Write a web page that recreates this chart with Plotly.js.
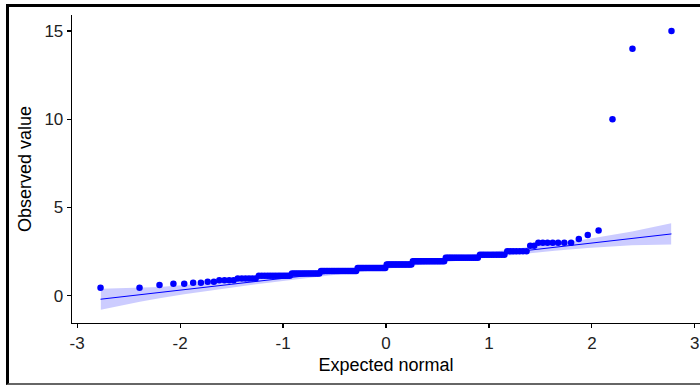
<!DOCTYPE html>
<html>
<head>
<meta charset="utf-8">
<script src="https://cdn.plot.ly/plotly-3.0.1.min.js"></script>
<style>
  html, body { margin:0; padding:0; background:#fff; overflow:hidden; width:700px; height:385px; }
  #chart { position:absolute; left:0; top:0; width:700px; height:385px; }
  #frame { position:absolute; left:6px; top:4px; width:720px; height:376px;
           border-top:3px solid #000; border-left:3px solid #000; border-bottom:2px solid #666;
           pointer-events:none; z-index:5; }
</style>
</head>
<body>
<div id="chart"></div>
<div id="frame"></div>
<script>
// Expected normal quantiles (x) of the 180 sorted observations
var expected = [
-2.773,-2.394,-2.200,-2.065,-1.960,-1.873,-1.798,-1.732,-1.672,-1.619,
-1.569,-1.523,-1.480,-1.440,-1.401,-1.365,-1.331,-1.298,-1.266,-1.235,
-1.206,-1.178,-1.150,-1.124,-1.098,-1.073,-1.048,-1.025,-1.001,-0.979,
-0.956,-0.935,-0.913,-0.892,-0.872,-0.852,-0.832,-0.812,-0.793,-0.774,
-0.755,-0.737,-0.719,-0.701,-0.683,-0.666,-0.648,-0.631,-0.614,-0.598,
-0.581,-0.565,-0.549,-0.532,-0.516,-0.501,-0.485,-0.469,-0.454,-0.438,
-0.423,-0.408,-0.393,-0.378,-0.363,-0.348,-0.333,-0.319,-0.304,-0.290,
-0.275,-0.261,-0.246,-0.232,-0.218,-0.203,-0.189,-0.175,-0.161,-0.147,
-0.133,-0.119,-0.105,-0.091,-0.077,-0.063,-0.049,-0.035,-0.021,-0.007,
0.007,0.021,0.035,0.049,0.063,0.077,0.091,0.105,0.119,0.133,
0.147,0.161,0.175,0.189,0.203,0.218,0.232,0.246,0.261,0.275,
0.290,0.304,0.319,0.333,0.348,0.363,0.378,0.393,0.408,0.423,
0.438,0.454,0.469,0.485,0.501,0.516,0.532,0.549,0.565,0.581,
0.598,0.614,0.631,0.648,0.666,0.683,0.701,0.719,0.737,0.755,
0.774,0.793,0.812,0.832,0.852,0.872,0.892,0.913,0.935,0.956,
0.979,1.001,1.025,1.048,1.073,1.098,1.124,1.150,1.178,1.206,
1.235,1.266,1.298,1.331,1.365,1.401,1.440,1.480,1.523,1.569,
1.619,1.672,1.732,1.798,1.873,1.960,2.065,2.200,2.394,2.773
];

// Observed values (sorted)
var observed = [
0.45,0.45,0.61,0.68,0.68,0.74,0.74,0.79,0.79,0.87,
0.87,0.87,0.87,0.97,0.97,0.97,0.97,0.97,0.97,1.13,
1.13,1.13,1.13,1.13,1.13,1.13,1.13,1.13,1.13,1.13,
1.13,1.13,1.26,1.26,1.26,1.26,1.26,1.26,1.26,1.26,
1.26,1.26,1.26,1.26,1.26,1.26,1.26,1.40,1.40,1.40,
1.40,1.40,1.40,1.40,1.40,1.40,1.40,1.40,1.40,1.40,
1.40,1.40,1.40,1.40,1.40,1.40,1.40,1.40,1.40,1.40,
1.57,1.57,1.57,1.57,1.57,1.57,1.57,1.57,1.57,1.57,
1.57,1.57,1.57,1.57,1.57,1.57,1.57,1.57,1.57,1.57,
1.77,1.77,1.77,1.77,1.77,1.77,1.77,1.77,1.77,1.77,
1.77,1.77,1.77,1.77,1.77,1.77,1.77,1.77,1.95,1.95,
1.95,1.95,1.95,1.95,1.95,1.95,1.95,1.95,1.95,1.95,
1.95,1.95,1.95,1.95,1.95,1.95,1.95,1.95,1.95,2.15,
2.15,2.15,2.15,2.15,2.15,2.15,2.15,2.15,2.15,2.15,
2.15,2.15,2.15,2.15,2.15,2.15,2.15,2.32,2.32,2.32,
2.32,2.32,2.32,2.32,2.32,2.32,2.32,2.32,2.52,2.52,
2.52,2.52,2.52,2.52,2.52,2.83,2.83,3.00,3.00,3.00,
3.00,3.00,3.00,3.00,3.21,3.44,3.70,10,14,15
];

// Reference line end points
var lineX = [-2.773, 2.773];
var lineY = [-0.20, 3.50];

// Confidence band
var bandX     = [-2.77,-2.39,-2.20,-1.96,-1.64,-1.28,-0.84,-0.42,0,0.42,0.84,1.28,1.64,1.96,2.20,2.39,2.77];
var bandUpper = [0.40,0.443,0.50,0.60,0.759,0.961,1.228,1.495,1.772,2.057,2.35,2.671,2.951,3.219,3.44,3.637,4.10];
var bandLower = [-0.80,-0.337,-0.14,0.08,0.349,0.629,0.95,1.243,1.528,1.805,2.072,2.339,2.541,2.699,2.80,2.857,2.90];

// Tick labels
var xTickVals = [-3,-2,-1,0,1,2,3];
var xTickText = ['-3','-2','-1','0','1','2','3'];
var yTickVals = [0,5,10,15];
var yTickText = ['0','5','10','15'];

var polyX = bandX.concat(bandX.slice().reverse());
var polyY = bandUpper.concat(bandLower.slice().reverse());

var traces = [
  { x: polyX, y: polyY, type:'scatter', mode:'lines', fill:'toself',
    fillcolor:'rgba(0,0,255,0.2)', line:{width:0, color:'rgba(0,0,0,0)'}, hoverinfo:'skip' },
  { x: lineX, y: lineY, type:'scatter', mode:'lines', line:{color:'#0000ff', width:1} },
  { x: expected, y: observed, type:'scatter', mode:'markers',
    marker:{color:'#0000ff', size:6.5, line:{width:0}} }
];

var font = 'Liberation Sans, Arial, sans-serif';
var layout = {
  width:700, height:385,
  margin:{l:72, r:0, t:15, b:62, pad:0},
  paper_bgcolor:'#ffffff', plot_bgcolor:'#ffffff',
  showlegend:false,
  font:{family:font, color:'#000'},
  xaxis:{
    range:[-3.05,3.05], showgrid:false, zeroline:false,
    showline:true, linecolor:'#000', linewidth:1.3,
    ticks:'outside', ticklen:4, tickwidth:1.1, tickcolor:'#000',
    tickmode:'array', tickvals:xTickVals, ticktext:xTickText,
    tickfont:{family:font, size:17, color:'#222'},
    title:{text:'Expected normal', font:{family:font, size:18, color:'#000'}, standoff:6},
    automargin:false
  },
  yaxis:{
    range:[-1.547,15.906], showgrid:false, zeroline:false,
    showline:true, linecolor:'#000', linewidth:1.3,
    ticks:'outside', ticklen:4, tickwidth:1.1, tickcolor:'#000',
    tickmode:'array', tickvals:yTickVals, ticktext:yTickText,
    tickfont:{family:font, size:17, color:'#222'},
    title:{text:'Observed value', font:{family:font, size:18, color:'#000'}, standoff:8},
    automargin:false
  }
};

Plotly.newPlot('chart', traces, layout, {displayModeBar:false, staticPlot:true});
</script>
</body>
</html>
